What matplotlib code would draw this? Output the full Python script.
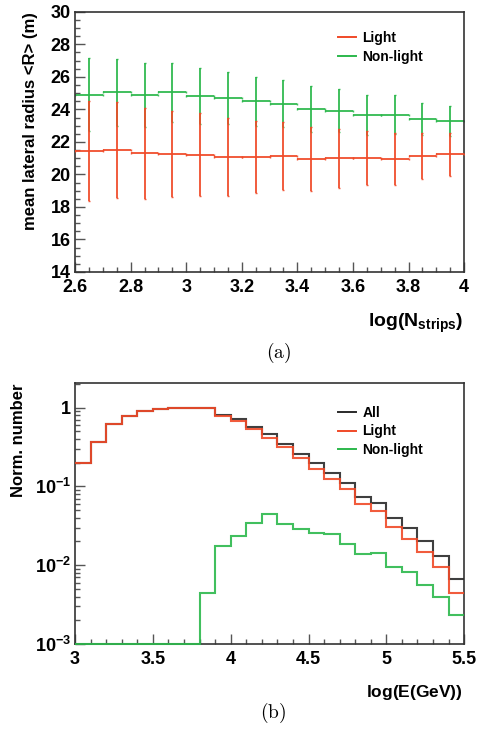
import matplotlib
matplotlib.use('Agg')
import matplotlib.pyplot as plt
import matplotlib.ticker as mticker
from matplotlib.lines import Line2D
import numpy as np

plt.rcParams['font.family'] = ['Liberation Sans', 'DejaVu Sans']
plt.rcParams['font.weight'] = 'bold'
plt.rcParams['mathtext.fontset'] = 'custom'
plt.rcParams['mathtext.rm'] = 'Liberation Sans:bold'
plt.rcParams['mathtext.bf'] = 'Liberation Sans:bold'
plt.rcParams['mathtext.it'] = 'Liberation Sans:bold'

RED = '#f04a28'
GREEN = '#2cb84c'
BLACK = '#2a2a2a'
FRAME = '#333333'

# ============================================================
# (a) mean lateral radius vs log(N_strips)
# ============================================================
nstrip_edges = np.linspace(2.6, 4.0, 15)
light_r = [21.45, 21.49, 21.30, 21.26, 21.20, 21.06, 21.08, 21.12, 20.95, 20.99,
           21.02, 20.95, 21.12, 21.24]
light_err = [3.08, 2.96, 2.81, 2.66, 2.55, 2.38, 2.23, 2.08, 1.97, 1.83,
             1.66, 1.61, 1.40, 1.33]
heavy_r = [24.89, 25.04, 24.89, 25.04, 24.81, 24.69, 24.50, 24.34, 24.03, 23.93,
           23.66, 23.68, 23.42, 23.27]
heavy_err = [2.25, 2.05, 1.95, 1.82, 1.73, 1.61, 1.51, 1.45, 1.41, 1.35,
             1.21, 1.18, 0.98, 0.91]

# ============================================================
# (b) normalized energy distributions
# ============================================================
energy_edges = np.linspace(3.0, 5.5, 26)
all_n = [0.199, 0.370, 0.621, 0.784, 0.898, 0.971, 1.0, 1.0, 0.98, 0.807,
         0.711, 0.568, 0.459, 0.346, 0.256, 0.195, 0.148, 0.111, 0.0736, 0.0623,
         0.0395, 0.0295, 0.0200, 0.0131, 0.00671]
light_n = [0.199, 0.370, 0.621, 0.784, 0.898, 0.971, 1.0, 1.0, 0.98, 0.784,
           0.677, 0.536, 0.412, 0.311, 0.226, 0.168, 0.123, 0.0912, 0.0600, 0.0493,
           0.0303, 0.0214, 0.0145, 0.00934, 0.00442]
heavy_n = [0.001, 0.001, 0.001, 0.001, 0.001, 0.001, 0.001, 0.001, 0.00442, 0.01725,
           0.0231, 0.0338, 0.0440, 0.0334, 0.0289, 0.0255, 0.0245, 0.0188, 0.0138, 0.0141,
           0.00934, 0.00807, 0.00562, 0.00389, 0.00230]

fig = plt.figure(figsize=(4.81, 7.39), dpi=100)
ax_a = fig.add_axes([0.156, 0.632, 0.809, 0.352])
ax_b = fig.add_axes([0.156, 0.1286, 0.809, 0.353])


def style_axes(ax):
    for sp in ax.spines.values():
        sp.set_color(FRAME)
        sp.set_linewidth(1.2)
    ax.tick_params(which='both', direction='in', top=False, right=False,
                   color='#555555', labelsize=13)
    ax.tick_params(axis='x', pad=5)
    ax.tick_params(axis='y', pad=3)
    ax.tick_params(which='major', length=7, width=1)
    ax.tick_params(which='minor', length=3.5, width=1)
    for lbl in ax.get_xticklabels() + ax.get_yticklabels():
        lbl.set_fontweight('bold')


leg_kw = dict(loc='upper left', frameon=False, handlelength=1.3,
              handletextpad=0.45, labelspacing=0.32, borderpad=0,
              borderaxespad=0, prop={'weight': 'bold', 'size': 10})

# ---- panel (a)
centers = 0.5 * (nstrip_edges[:-1] + nstrip_edges[1:])
half_w = 0.5 * np.diff(nstrip_edges)
ax_a.errorbar(centers, light_r, xerr=half_w, yerr=light_err, fmt='none',
              ecolor=RED, elinewidth=1.4, capsize=1, alpha=0.9, zorder=3)
ax_a.errorbar(centers, heavy_r, xerr=half_w, yerr=heavy_err, fmt='none',
              ecolor=GREEN, elinewidth=1.4, capsize=1, alpha=0.9, zorder=2)
ax_a.set_xlim(2.6, 4.0)
ax_a.set_ylim(14, 30)
ax_a.xaxis.set_major_locator(mticker.MultipleLocator(0.2))
ax_a.xaxis.set_minor_locator(mticker.MultipleLocator(0.05))
ax_a.yaxis.set_major_locator(mticker.MultipleLocator(2))
ax_a.yaxis.set_minor_locator(mticker.MultipleLocator(0.5))
ax_a.xaxis.set_major_formatter(mticker.FuncFormatter(lambda v, p: f'{v:g}'))
style_axes(ax_a)
ax_a.set_ylabel('mean lateral radius <R> (m)', fontsize=12, fontweight='bold',
                loc='top', labelpad=9)
ax_a.legend([Line2D([], [], color=RED, lw=1.4), Line2D([], [], color=GREEN, lw=1.4)],
            ['Light', 'Non-light'], bbox_to_anchor=(0.676, 0.925), **leg_kw)
fig.text(0.962, 0.558, r'$\mathrm{log(N_{strips})}$', fontsize=14,
         ha='right', va='baseline')
fig.text(0.578, 0.522, r'$(\mathrm{a})$', math_fontfamily='cm', fontsize=14,
         ha='center', va='center')

# ---- panel (b)
ax_b.stairs(heavy_n, energy_edges, baseline=None, color=GREEN, lw=1.5,
            alpha=0.9, zorder=3, clip_on=False)
ax_b.stairs(all_n, energy_edges, baseline=None, color=BLACK, lw=1.5,
            alpha=0.9, zorder=3)
ax_b.stairs(light_n, energy_edges, baseline=None, color=RED, lw=1.5,
            alpha=0.9, zorder=4)
ax_b.set_yscale('log')
ax_b.set_xlim(3.0, 5.5)
ax_b.set_ylim(1e-3, 2.04)
ax_b.xaxis.set_major_locator(mticker.MultipleLocator(0.5))
ax_b.xaxis.set_minor_locator(mticker.MultipleLocator(0.1))
ax_b.xaxis.set_major_formatter(mticker.FuncFormatter(lambda v, p: f'{v:g}'))
ax_b.yaxis.set_major_locator(mticker.LogLocator(base=10, numticks=10))
ax_b.yaxis.set_minor_locator(mticker.LogLocator(base=10, subs=np.arange(2, 10), numticks=20))
ax_b.yaxis.set_minor_formatter(mticker.NullFormatter())


def log_fmt(v, p):
    e = int(round(np.log10(v)))
    if e == 0:
        return '1'
    return r'$\mathrm{10^{%d}}$' % e


ax_b.yaxis.set_major_formatter(mticker.FuncFormatter(log_fmt))
style_axes(ax_b)
ax_b.set_ylabel('Norm. number', fontsize=12, fontweight='bold', loc='top',
                labelpad=6)
ax_b.legend([Line2D([], [], color=BLACK, lw=1.4), Line2D([], [], color=RED, lw=1.4),
             Line2D([], [], color=GREEN, lw=1.4)],
            ['All', 'Light', 'Non-light'], bbox_to_anchor=(0.676, 0.912), **leg_kw)
fig.text(0.962, 0.063, r'$\mathrm{log(E(GeV))}$', fontsize=12.5,
         ha='right', va='center')
fig.text(0.568, 0.035, r'$(\mathrm{b})$', math_fontfamily='cm', fontsize=14,
         ha='center', va='center')

fig.savefig('out.png', dpi=100)
